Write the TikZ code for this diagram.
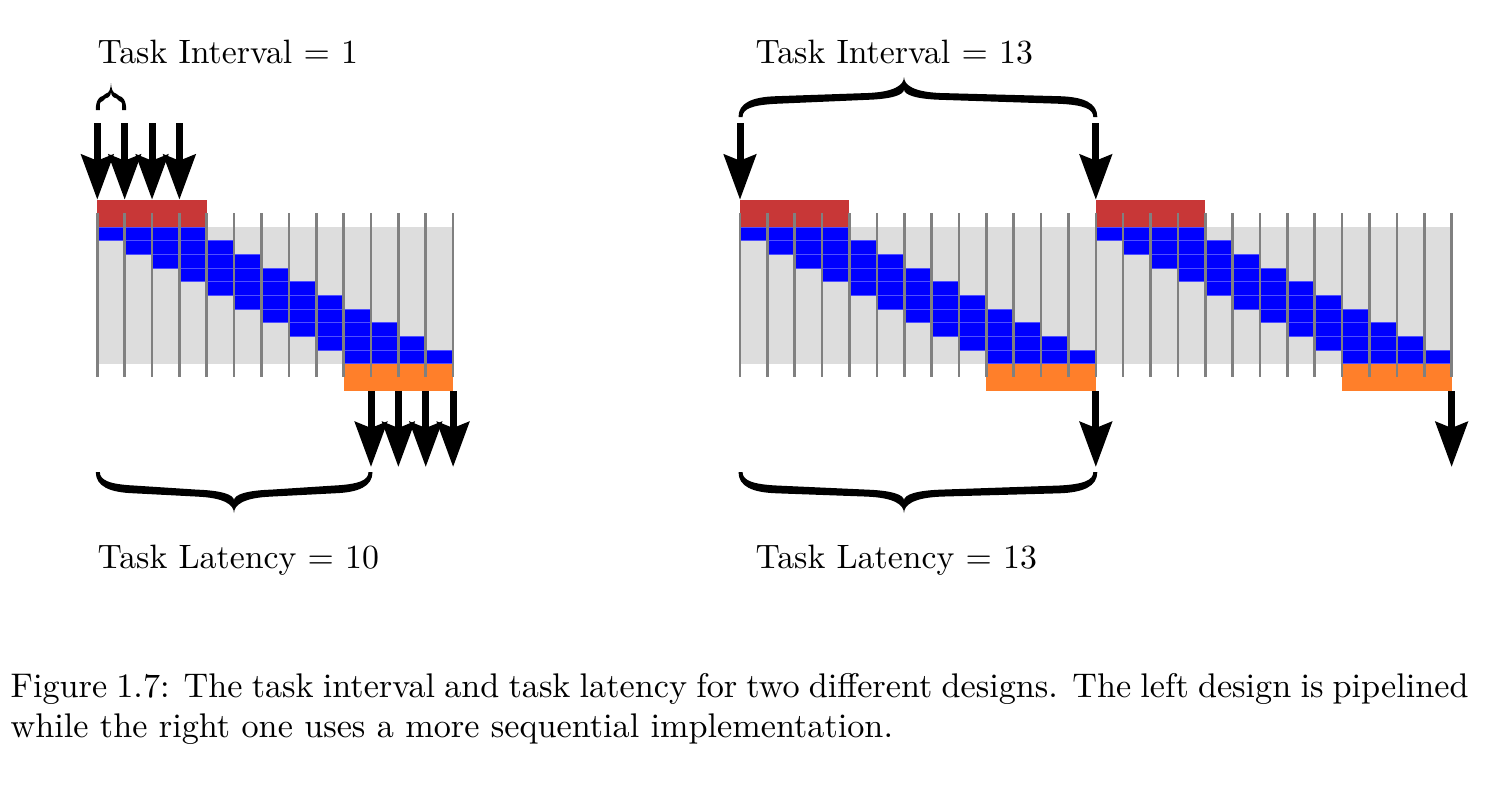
\documentclass[tikz,border=0pt]{standalone}
\usetikzlibrary{arrows.meta}
\definecolor{bggray}{HTML}{DDDDDD}
\definecolor{taskblue}{HTML}{0000FF}
\definecolor{cellline}{HTML}{5050FF}
\definecolor{inred}{HTML}{C83737}
\definecolor{outorange}{HTML}{FF7F2A}
\definecolor{tickgray}{HTML}{808080}
% filled, tapered curly brace: #1 left x, #2 tip x, #3 right x, #4 end y, #5 tip y
\newcommand\fatbrace[5]{%
 \pgfmathsetmacro\bd{(#5)-(#4)}%
 \pgfmathsetmacro\bA{abs(\bd)}%
 \pgfmathsetmacro\bcl{min(0.9*\bA,((#2)-(#1))*0.4)}%
 \pgfmathsetmacro\bcr{min(0.9*\bA,((#3)-(#2))*0.4)}%
 \fill[bracefill] ({#1+2.5},{#4}) -- ({#1-1.5},{#4})
  .. controls ({#1-1.5},{#4+0.35*(\bd)}) and ({#1+0.33*\bcl},{#4+0.5*(\bd)}) .. ({#1+\bcl},{#4+0.52*(\bd)})
  -- ({#2-\bcl},{#4+0.6*(\bd)})
  .. controls ({#2-0.25*\bcl},{#4+0.63*(\bd)}) and ({#2-0.3},{#4+0.8*(\bd)}) .. ({#2},{#5})
  .. controls ({#2+0.3},{#4+0.8*(\bd)}) and ({#2+0.25*\bcr},{#4+0.63*(\bd)}) .. ({#2+\bcr},{#4+0.6*(\bd)})
  -- ({#3-\bcr},{#4+0.52*(\bd)})
  .. controls ({#3-0.33*\bcr},{#4+0.5*(\bd)}) and ({#3+1.5},{#4+0.35*(\bd)}) .. ({#3+1.5},{#4})
  -- ({#3-2.5},{#4})
  .. controls ({#3-2.5},{#4+0.2*(\bd)}) and ({#3-0.33*\bcr},{#4+0.3*(\bd)}) .. ({#3-\bcr},{#4+0.33*(\bd)})
  -- ({#2+\bcr},{#4+0.43*(\bd)})
  .. controls ({#2+0.35*\bcr},{#4+0.45*(\bd)}) and ({#2},{#4+0.55*(\bd)}) .. ({#2},{#4+0.69*(\bd)})
  .. controls ({#2},{#4+0.55*(\bd)}) and ({#2-0.35*\bcl},{#4+0.45*(\bd)}) .. ({#2-\bcl},{#4+0.43*(\bd)})
  -- ({#1+\bcl},{#4+0.33*(\bd)})
  .. controls ({#1+0.33*\bcl},{#4+0.3*(\bd)}) and ({#1+2.5},{#4+0.2*(\bd)}) .. ({#1+2.5},{#4}) -- cycle;
}
\begin{document}
\begin{tikzpicture}[x=1pt,y=-1pt]
\useasboundingbox (0,0) rectangle (1490,790);
\def\p{27.37}
\def\h{13.65}
\tikzset{
 bgfill/.style={fill=bggray},
 cellbox/.style={fill=taskblue, draw=cellline, line width=0.5pt},
 inbar/.style={fill=inred},
 outbar/.style={fill=outorange},
 tickline/.style={draw=tickgray, line width=2.6pt},
 bracefill/.style={fill=black},
 flow/.style={line width=7pt, -{Stealth[length=45pt,width=32pt,inset=6pt]}},
 lbltxt/.style={inner sep=0pt, anchor=base west, font=\normalsize, scale=3.38},
 captxt/.style={inner sep=0pt, anchor=base west, font=\normalsize, scale=3.42},
}
% ---------- left design ----------
\fill[bgfill] (97.3,227) rectangle ++({13*\p},{10*\h});
\foreach \r in {0,...,9} \foreach \c in {0,...,3}
  {\draw[cellbox] ({97.3+(\r+\c)*\p},{227+\r*\h}) rectangle ++(\p,\h);}
\fill[inbar] (97.3,{227-2*\h}) rectangle ++({4*\p},{2*\h});
\fill[outbar] ({97.3+9*\p},{227+10*\h}) rectangle ++({4*\p},{2*\h});
\foreach \k in {0,...,13}
  {\draw[tickline] ({97.3+\k*\p},{227-\h}) -- ++(0,{12*\h});}
\foreach \k in {0,...,3} {
  \coordinate (LinS\k) at ({97.3+\k*\p},123);
  \coordinate (LinE\k) at ({97.3+\k*\p},{227-2*\h});
  \draw[flow] (LinS\k) -- (LinE\k);
  \coordinate (LoutS\k) at ({97.3+(9+\k+1)*\p},{227+12*\h});
  \coordinate (LoutE\k) at ({97.3+(9+\k+1)*\p},467);
  \draw[flow] (LoutS\k) -- (LoutE\k);
}
\fatbrace{97.3}{111}{124.7}{110}{83}
\fatbrace{97.3}{234}{371}{472}{513}
\node[lbltxt] (LItxt) at (97,63) {Task Interval = 1};
\node[lbltxt] (LLtxt) at (97,568) {Task Latency = 10};
% ---------- right design ----------
\fill[bgfill] (740,227) rectangle ++({26*\p},{10*\h});
\foreach \t in {0,1} \foreach \r in {0,...,9} \foreach \c in {0,...,3}
  {\draw[cellbox] ({740+(13*\t+\r+\c)*\p},{227+\r*\h}) rectangle ++(\p,\h);}
\foreach \t in {0,1} {
  \fill[inbar] ({740+13*\t*\p},{227-2*\h}) rectangle ++({4*\p},{2*\h});
  \fill[outbar] ({740+(13*\t+9)*\p},{227+10*\h}) rectangle ++({4*\p},{2*\h});
}
\foreach \k in {0,...,26}
  {\draw[tickline] ({740+\k*\p},{227-\h}) -- ++(0,{12*\h});}
\foreach \t in {0,1} {
  \coordinate (RinS\t) at ({740+13*\t*\p},123);
  \coordinate (RinE\t) at ({740+13*\t*\p},{227-2*\h});
  \draw[flow] (RinS\t) -- (RinE\t);
  \coordinate (RoutS\t) at ({740+13*(\t+1)*\p},{227+12*\h});
  \coordinate (RoutE\t) at ({740+13*(\t+1)*\p},467);
  \draw[flow] (RoutS\t) -- (RoutE\t);
}
\fatbrace{740}{904}{1095.8}{117}{77}
\fatbrace{740}{904}{1095.8}{472}{513}
\node[lbltxt] (RItxt) at (755,63) {Task Interval = 13};
\node[lbltxt] (RLtxt) at (755,568) {Task Latency = 13};
% ---------- caption ----------
\node[captxt] (cap1) at (10,697) {\hbox to 426.3pt{Figure 1.7: The task interval and task latency for two different designs. The left design is pipelined}};
\node[captxt] (cap2) at (10,737) {while the right one uses a more sequential implementation.};
\end{tikzpicture}
\end{document}
